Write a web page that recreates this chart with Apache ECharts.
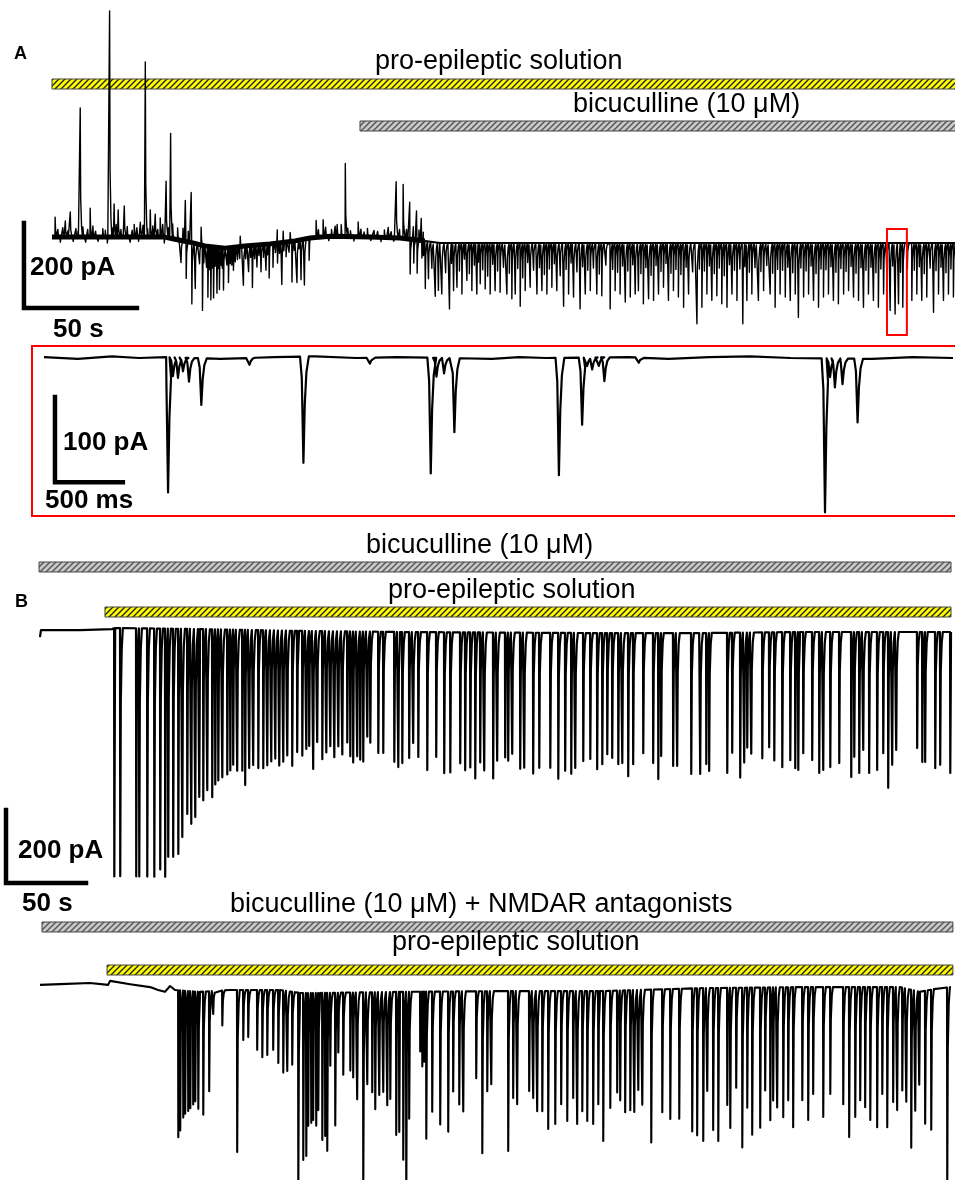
<!DOCTYPE html>
<html><head><meta charset="utf-8">
<script src="https://cdn.jsdelivr.net/npm/echarts@6/dist/echarts.min.js"></script>
<style>html,body{margin:0;padding:0;background:#fff}#c{width:955px;height:1180px}</style>
</head><body><div id="c"></div>
<script>
// ================= DATA =================
// Panel A: whole-cell current (pA) vs time (s). Baseline drift, then events [time s, amplitude pA]
const aDrift = [[0,7],[21.2,7],[50,7],[54.4,2],[61,-5],[67.7,-14],[76.6,-19],[85.4,-14],[96.5,-9],[107.5,-2],[114.2,5],[123,9],[140.7,7],[154,5],[165,-2],[171.7,-7],[399.6,-7]];
const aUp = [[1.3,47],[5.8,38],[8.0,59],[12.4,304],[16.8,68],[21.2,56],[25.4,532],[27.4,78],[29.2,64],[31.9,73],[36.3,30],[39.0,35],[41.2,412],[43.4,64],[45.6,54],[47.8,45],[50.4,132],[52.4,247],[54.4,99],[56.9,127],[58.9,96],[61.5,118],[65.9,42],[75.7,35],[83.2,24],[99.6,31],[102.2,26],[105.3,21],[116.8,40],[119.9,40],[125.2,24],[126.1,28],[127.9,28],[129.7,172],[135.4,35],[148.7,24],[152.2,132],[155.3,127],[158.2,87],[161.2,68],[163.3,52]];
// small fluctuations of the noisy early baseline (positive = outward)
const aNoise = [[2.5,18],[3.6,-12],[4.7,22],[7.0,15],[9.3,-10],[10.5,20],[11.4,14],[13.6,24],[14.8,-12],[15.7,18],[18.0,26],[19.2,14],[20.3,-10],[22.4,20],[23.5,16],[24.4,-14],[26.5,22],[28.3,30],[30.4,18],[33.2,25],[34.5,-12],[35.4,16],[37.5,22],[38.2,-10],[40.2,28],[42.2,20],[44.5,26],[46.7,18],[48.9,30],[49.6,-14],[51.4,24],[53.3,35],[55.5,28],[57.9,30],[60.2,25],[117.8,18],[121.0,22],[122.4,-10],[123.6,16],[130.8,20],[132.0,14],[133.5,-10],[136.6,18],[138.0,12],[139.5,20],[141.0,-8],[142.4,16],[144.0,14],[145.5,-10],[147.0,18],[150.0,14],[151.2,-8],[153.7,20],[156.8,22],[159.8,30],[162.3,24],[164.2,20]];
const aDownEarly = [[57.0,52],[59.3,87],[61.8,144],[63.3,106],[65.2,45],[66.5,153],[67.1,40],[67.7,87],[68.3,50],[68.9,120],[69.6,55],[70.2,125],[70.8,50],[71.4,120],[72.1,45],[72.9,108],[73.5,50],[74.0,99],[74.8,42],[75.3,48],[75.8,99],[76.6,45],[77.3,40],[78.0,82],[78.8,38],[79.5,42],[80.2,54],[81.0,35],[82.0,30],[83.0,28],[84.6,92],[85.6,30],[86.9,61],[87.8,28],[88.6,99],[89.6,32],[90.6,52],[91.5,25],[92.4,64],[93.5,30],[94.6,61],[95.3,25],[96.0,80],[97.7,56],[98.8,22],[99.7,47],[100.6,25],[101.6,99],[102.5,20],[103.5,35],[104.8,25],[106.1,96],[107.2,22],[108.3,99],[109.2,20],[110.1,94],[111.6,108],[113.7,52]];
const aDownLate = [[158.4,82],[161.5,78],[163.6,41],[165.1,112],[166.5,88],[169.5,127],[170.9,112],[172.4,120],[175.8,155],[177.6,112],[179.1,104],[181.3,120],[183.5,88],[185.7,112],[187.9,120],[189.4,96],[191.6,108],[193.8,120],[196.0,112],[198.2,116],[201.2,120],[203.4,131],[204.9,120],[207.1,149],[209.3,112],[211.5,104],[214.5,120],[216.7,112],[218.9,120],[221.1,104],[223.3,112],[226.3,149],[228.5,120],[230.7,127],[233.6,155],[235.9,120],[238.1,112],[241.0,120],[243.2,124],[246.9,155],[249.1,112],[251.3,120],[253.6,139],[255.8,127],[258.0,120],[259.4,112],[261.6,143],[263.9,131],[266.1,135],[268.3,120],[270.5,104],[272.7,135],[274.9,112],[277.1,127],[279.4,151],[281.6,120],[285.3,190],[287.5,151],[289.7,120],[291.9,135],[294.1,124],[296.3,143],[298.6,151],[300.8,120],[303.0,135],[305.6,190],[307.4,135],[309.6,120],[312.5,135],[314.8,112],[317.7,120],[319.9,151],[322.1,120],[324.4,127],[326.6,135],[328.8,120],[330.2,175],[332.5,127],[334.7,120],[336.9,135],[339.1,151],[341.3,127],[343.5,120],[345.7,135],[347.9,143],[350.2,120],[352.4,112],[354.6,127],[356.8,135],[359.0,151],[361.2,120],[363.4,135],[365.6,151],[367.9,120],[370.8,159],[373.0,167],[374.5,143],[376.4,151],[380.4,135],[382.6,120],[384.8,135],[387.0,127],[390.0,163],[392.2,120],[394.4,135],[396.6,120],[398.8,127]];
// smaller events between the large ones (after bicuculline)
const aMinor = [[160.0,55],[164.3,35],[168.0,62],[171.6,44],[174.1,70],[176.7,48],[180.2,66],[182.4,38],[184.6,72],[186.8,52],[188.6,45],[190.5,63],[192.7,78],[194.9,50],[197.1,66],[199.7,57],[202.3,71],[206.0,60],[208.2,82],[210.4,46],[213.0,64],[215.6,58],[217.8,74],[220.0,61],[222.2,49],[224.8,77],[227.4,62],[229.6,47],[232.2,68],[234.7,56],[237.0,64],[239.5,59],[242.1,73],[245.0,52],[248.0,62],[250.2,69],[252.4,54],[254.7,66],[256.9,51],[260.5,72],[262.7,58],[265.0,76],[267.2,53],[269.4,67],[271.6,48],[273.8,71],[276.0,62],[278.2,74],[280.5,57],[283.4,68],[286.4,61],[288.6,66],[290.8,54],[293.0,72],[295.2,59],[297.4,77],[299.7,51],[301.9,64],[304.3,61],[306.5,56],[308.5,69],[311.0,58],[313.6,67],[316.2,53],[318.8,71],[321.0,62],[323.2,64],[325.5,57],[327.7,70],[331.3,59],[333.6,66],[335.8,54],[338.0,72],[340.2,61],[342.4,63],[344.6,56],[346.8,69],[349.0,60],[351.3,67],[353.5,55],[355.7,71],[357.9,58],[360.1,64],[362.3,57],[364.5,70],[366.7,61],[369.3,66],[371.9,54],[375.4,69],[378.4,62],[381.5,64],[383.7,56],[385.9,72],[388.5,59],[391.1,65],[393.3,57],[395.5,70],[397.7,61]];

// Inset (expanded window of A): time in ms, amplitude pA
const insetDrift = [[0,1],[250,-1],[500,2],[700,0],[900,1],[1300,-1],[1700,1],[2000,2],[2300,0],[2600,1],[3300,-1],[3500,1],[3700,0],[4300,1],[4600,-1],[4900,1],[5200,2],[5500,0],[6100,-1],[6400,1],[6696,0]];
const insetEvents = [[914,159],[950,22],[987,24],[1024,16],[1068,28],[1159,55],[1514,8],[1911,125],[2401,7],[2849,136],[2891,22],[2947,18],[3023,87],[3793,138],[3964,79],[4001,10],[4038,14],[4087,10],[4128,28],[4381,6],[5753,181],[5790,22],[5826,34],[5882,30],[5993,75]];

// Panel B, top trace (bicuculline, then pro-epileptic solution): time s, amplitude pA
const b1Drift = [[0,-14],[0.6,5],[25,5],[45,8],[47,11],[100,8],[162,3],[225,0],[350,-3],[412,-3],[475,0],[569.4,0]];
const b1Events = [[46.3,680],[50.0,680],[60.0,680],[61.9,680],[66.9,680],[71.3,680],[75.0,660],[78.1,680],[80.0,625],[83.1,625],[86.3,617],[88.8,570],[91.9,507],[94.4,534],[96.9,515],[99.4,460],[101.9,469],[104.4,441],[107.5,460],[109.4,425],[111.3,414],[113.8,405],[116.9,397],[118.8,386],[120.6,370],[123.1,386],[126.3,386],[128.1,425],[130.6,378],[133.1,370],[136.3,378],[139.4,378],[141.9,370],[144.4,359],[146.9,351],[149.4,370],[151.9,359],[154.4,342],[157.5,370],[160.6,332],[163.8,342],[166.3,323],[168.1,315],[170.6,378],[173.1,304],[176.3,351],[178.8,332],[181.3,315],[183.8,345],[186.3,315],[188.8,337],[191.9,304],[193.8,342],[195.6,359],[198.1,342],[200.0,351],[201.9,356],[204.4,288],[206.3,304],[211.3,332],[214.4,332],[221.3,356],[223.8,370],[226.3,359],[230.6,345],[233.1,304],[236.3,342],[241.9,378],[247.5,342],[252.5,386],[256.3,384],[262.5,359],[265.6,378],[268.8,370],[271.9,400],[275.0,356],[277.5,378],[283.1,400],[285.6,351],[290.6,342],[292.5,351],[295.0,332],[300.0,373],[302.5,370],[308.1,386],[311.9,370],[318.8,370],[323.8,400],[328.1,378],[331.9,386],[334.4,370],[339.4,351],[343.8,345],[348.1,373],[351.3,359],[354.4,332],[357.5,342],[361.3,359],[363.8,356],[367.5,392],[370.6,359],[376.9,329],[383.1,356],[386.3,400],[388.1,337],[395.6,364],[398.1,364],[406.9,386],[412.5,386],[416.3,359],[418.1,378],[429.4,384],[432.5,329],[437.5,397],[440.0,356],[441.9,315],[444.4,332],[451.3,345],[455.6,315],[458.8,351],[463.8,370],[468.8,351],[471.9,373],[473.8,378],[476.9,332],[482.5,351],[486.9,386],[489.4,378],[493.8,370],[499.4,359],[506.9,397],[508.8,342],[511.9,386],[514.4,323],[518.1,386],[523.1,378],[526.9,332],[530.0,427],[532.5,364],[535.0,323],[548.1,318],[551.3,356],[553.1,356],[559.4,373],[562.5,364],[568.8,386]];

// Panel B, bottom trace (bicuculline + NMDAR antagonists, then pro-epileptic solution)
const b2Drift = [[0,14],[12.5,16],[31.3,19],[42.5,14],[43.8,25],[56.3,16],[68.8,8],[73.8,0],[78.1,-5],[81.3,11],[84.4,0],[100,-5],[118.8,0],[150,0],[162.5,-8],[175,-8],[225,-5],[287.5,-3],[350,-3],[412.5,5],[475,8],[537.5,8],[550,-5],[559.4,3],[569.4,8]];
const b2Events = [[84.4,560],[86.3,403],[87.5,384],[89.4,348],[90.6,337],[92.5,329],[93.8,321],[95.6,310],[96.9,301],[98.8,321],[100.0,293],[101.9,337],[105.6,274],[108.1,63],[113.8,96],[118.8,90],[123.1,444],[126.9,137],[130.0,129],[135.6,164],[138.8,184],[141.9,178],[145.6,164],[148.8,200],[151.9,225],[154.4,219],[157.5,200],[161.3,560],[162.5,384],[164.4,458],[166.3,447],[167.5,364],[169.4,356],[170.6,348],[172.5,364],[173.8,321],[176.3,403],[178.1,392],[179.4,433],[181.3,200],[184.4,364],[186.3,164],[189.4,225],[193.8,214],[195.6,233],[198.1,293],[201.9,560],[204.4,252],[207.5,274],[209.4,321],[211.9,282],[214.4,274],[216.9,310],[218.8,293],[222.5,392],[224.4,384],[226.9,460],[228.8,560],[230.6,348],[237.5,164],[238.8,205],[240.0,192],[241.3,403],[245.0,329],[250.0,364],[255.0,384],[258.1,274],[261.9,310],[264.4,329],[272.5,238],[276.3,444],[279.4,274],[281.9,255],[292.5,438],[295.6,293],[298.1,310],[305.6,274],[308.1,293],[310.6,329],[313.8,329],[317.5,378],[321.9,364],[325.6,310],[329.4,356],[333.1,293],[335.6,364],[338.8,329],[341.9,356],[345.6,364],[348.8,310],[351.9,411],[356.3,321],[360.6,279],[362.5,301],[365.6,334],[368.8,329],[371.3,334],[373.8,274],[376.3,315],[381.9,419],[388.8,337],[393.8,356],[399.4,356],[407.5,392],[410.6,403],[412.5,310],[414.4,419],[416.9,282],[420.6,389],[423.8,419],[429.4,321],[431.3,384],[435.0,274],[438.8,438],[441.9,329],[445.0,403],[450.0,384],[453.1,282],[456.3,364],[458.1,310],[460.6,329],[464.4,356],[467.5,310],[470.6,384],[476.3,310],[480.0,364],[483.1,293],[489.4,356],[493.8,293],[501.9,321],[505.6,411],[509.4,356],[512.5,310],[515.6,329],[518.8,364],[523.1,384],[526.3,293],[529.4,384],[533.1,315],[535.6,337],[538.8,282],[541.3,310],[544.4,433],[546.9,329],[549.4,255],[553.1,364],[556.9,384],[566.9,560]];

// Drug applications [start, end] on each trace's time axis
const aProEpi = [0, 400.5];
const aBic = [136.3, 400.5];
const b1Bic = [-0.6, 569.4];
const b1ProEpi = [40.6, 569.4];
const b2BicNmda = [1.25, 570.6];
const b2ProEpi = [41.9, 570.6];
const insetWindow = [369.5, 378.3];   // region of A expanded in the inset

// Scale bars: [time origin, current origin, time length, current length]
const scaleA = [-12.4, -160, 50, 200];
const scaleInset = [81, -146, 500, 100];
const scaleB = [-21.25, -688, 50, 200];

const labels = {
  proEpi: 'pro-epileptic solution',
  bic: 'bicuculline (10 \u03bcM)',
  bicNmda: 'bicuculline (10 \u03bcM) + NMDAR antagonists',
  s200: '200 pA', s100: '100 pA', s50: '50 s', s500: '500 ms'
};

// ================= BUILD =================
const K_A = [[0,0],[0.1,1],[0.3,0.3],[0.7,0.08],[1.1,0]];
const K_IN = [[-25,0],[-12,0.2],[0,1],[10,0.45],[22,0.15],[40,0]];
const K_B = [[0,0],[0.15,1],[0.5,0.3],[1.1,0.08],[1.8,0]];

function baseAt(drift, t){
  if (t <= drift[0][0]) return drift[0][1];
  for (let i = 1; i < drift.length; i++) {
    if (t <= drift[i][0]) {
      const a = drift[i-1], b = drift[i];
      return a[1] + (b[1]-a[1])*(t-a[0])/(b[0]-a[0]);
    }
  }
  return drift[drift.length-1][1];
}
function build(drift, events, kernel){
  const items = events.map(e => ({t:e[0], a:e[1], k:kernel}))
    .concat(drift.map(d => ({t:d[0], a:0, k:[[0,0]]})));
  items.sort((p,q) => p.t - q.t);
  const pts = [];
  const tEnd = drift[drift.length-1][0];
  for (let i = 0; i < items.length; i++) {
    const it = items[i];
    const next = i+1 < items.length ? items[i+1].t : Infinity;
    for (let j = 0; j < it.k.length; j++) {
      const tt = it.t + it.k[j][0];
      if (j > 0 && it.k[j][0] > 0 && (tt >= next || tt > tEnd)) break;
      pts.push([tt, baseAt(drift, tt) - it.a*it.k[j][1]]);
    }
  }
  return pts;
}
function scaleData(s){ return [[s[0], s[1]+s[3]], [s[0], s[1]], [s[0]+s[2], s[1]]]; }

const aEvents = aDownEarly.concat(aDownLate).concat(aMinor)
  .concat(aUp.map(e => [e[0], -e[1]])).concat(aNoise.map(e => [e[0], -e[1]]));

const lineS = (data, xi, w, extra) => Object.assign({
  type:'line', data, xAxisIndex:xi, yAxisIndex:xi, showSymbol:false, symbol:'none',
  silent:true, animation:false, lineStyle:{color:'#000', width:w, join:'round'}
}, extra || {});
const barS = (s, xi) => lineS(scaleData(s), xi, 4.5, {lineStyle:{color:'#000', width:4.5, cap:'square', join:'miter'}});

const chart = echarts.init(document.getElementById('c'), null, {renderer:'canvas'});
const hid = {show:false};
chart.setOption({
  animation:false,
  grid:[
    {left:0, top:0, width:955, height:345},
    {left:32, top:346, width:925, height:170},
    {left:0, top:620, width:955, height:270},
    {left:0, top:978, width:955, height:202}
  ],
  xAxis:[
    Object.assign({type:'value', gridIndex:0, min:-23.0, max:399.6}, hid),
    Object.assign({type:'value', gridIndex:1, min:-88.2, max:6710.6}, hid),
    Object.assign({type:'value', gridIndex:2, min:-25, max:571.9}, hid),
    Object.assign({type:'value', gridIndex:3, min:-25, max:571.9}, hid)
  ],
  yAxis:[
    Object.assign({type:'value', gridIndex:0, min:-247, max:565}, hid),
    Object.assign({type:'value', gridIndex:1, min:-185.8, max:14.1}, hid),
    Object.assign({type:'value', gridIndex:2, min:-706.9, max:32.9}, hid),
    Object.assign({type:'value', gridIndex:3, min:-520.6, max:32.9}, hid)
  ],
  series:[
    lineS(aDrift.slice(0,15), 0, 5),
    lineS(aDrift.slice(14), 0, 2),
    lineS(build(aDrift, aEvents, K_A), 0, 1.4),
    barS(scaleA, 0),
    lineS(build(insetDrift, insetEvents, K_IN), 1, 2.2),
    barS(scaleInset, 1),
    lineS(build(b1Drift, b1Events, K_B), 2, 2.2),
    barS(scaleB, 2),
    lineS(build(b2Drift, b2Events, K_B), 3, 2.1)
  ]
});

// ================= ANNOTATIONS =================
function hatch(bg, fg){
  const s = 6, c = document.createElement('canvas');
  c.width = s; c.height = s;
  const g = c.getContext('2d');
  g.fillStyle = bg; g.fillRect(0,0,s,s);
  g.strokeStyle = fg; g.lineWidth = 1.4;
  g.beginPath();
  g.moveTo(-1, s+1); g.lineTo(s+1, -1);
  g.moveTo(-1, 1); g.lineTo(1, -1);
  g.moveTo(s-1, s+1); g.lineTo(s+1, s-1);
  g.stroke();
  return c;
}
const yel = {image:hatch('#ffff00', '#222'), repeat:'repeat'};
const gry = {image:hatch('#c8c8c8', '#555'), repeat:'repeat'};
const px = (ax, t) => chart.convertToPixel({xAxisIndex:ax}, t);
function bar(ax, app, y, fill){
  const x0 = px(ax, app[0]), x1 = px(ax, app[1]);
  return {type:'rect', z:0, shape:{x:x0, y:y, width:x1-x0, height:10},
    style:{fill:fill, stroke:'#444', lineWidth:1}};
}
const FN = '"Liberation Sans", Arial, Helvetica, sans-serif';
function txt(x, y, s, size, bold){
  return {type:'text', z:5, x:x, y:y, style:{text:s, font:(bold?'bold ':'')+size+'px '+FN,
    fill:'#000', align:'left', verticalAlign:'middle', textAlign:'left', textVerticalAlign:'middle'}};
}
const wx0 = px(0, insetWindow[0]), wx1 = px(0, insetWindow[1]);
chart.setOption({graphic:{elements:[
  bar(0, aProEpi, 79, yel),
  bar(0, aBic, 121, gry),
  bar(2, b1Bic, 562, gry),
  bar(2, b1ProEpi, 607, yel),
  bar(3, b2BicNmda, 922, gry),
  bar(3, b2ProEpi, 965, yel),
  {type:'rect', z:6, shape:{x:wx0, y:229, width:wx1-wx0, height:106}, style:{fill:'none', stroke:'#ff0000', lineWidth:2}},
  {type:'rect', z:6, shape:{x:32, y:346, width:930, height:170}, style:{fill:'none', stroke:'#ff0000', lineWidth:2}},
  txt(14, 54, 'A', 18, true),
  txt(15, 602, 'B', 18, true),
  txt(375, 62, labels.proEpi, 27, false),
  txt(573, 105, labels.bic, 27, false),
  txt(366, 546, labels.bic, 27, false),
  txt(388, 591, labels.proEpi, 27, false),
  txt(230, 905, labels.bicNmda, 27, false),
  txt(392, 943, labels.proEpi, 27, false),
  txt(30, 268, labels.s200, 26, true),
  txt(53, 330, labels.s50, 26, true),
  txt(63, 443, labels.s100, 26, true),
  txt(45, 501, labels.s500, 26, true),
  txt(18, 851, labels.s200, 26, true),
  txt(22, 904, labels.s50, 26, true)
]}});
</script>
</body></html>
